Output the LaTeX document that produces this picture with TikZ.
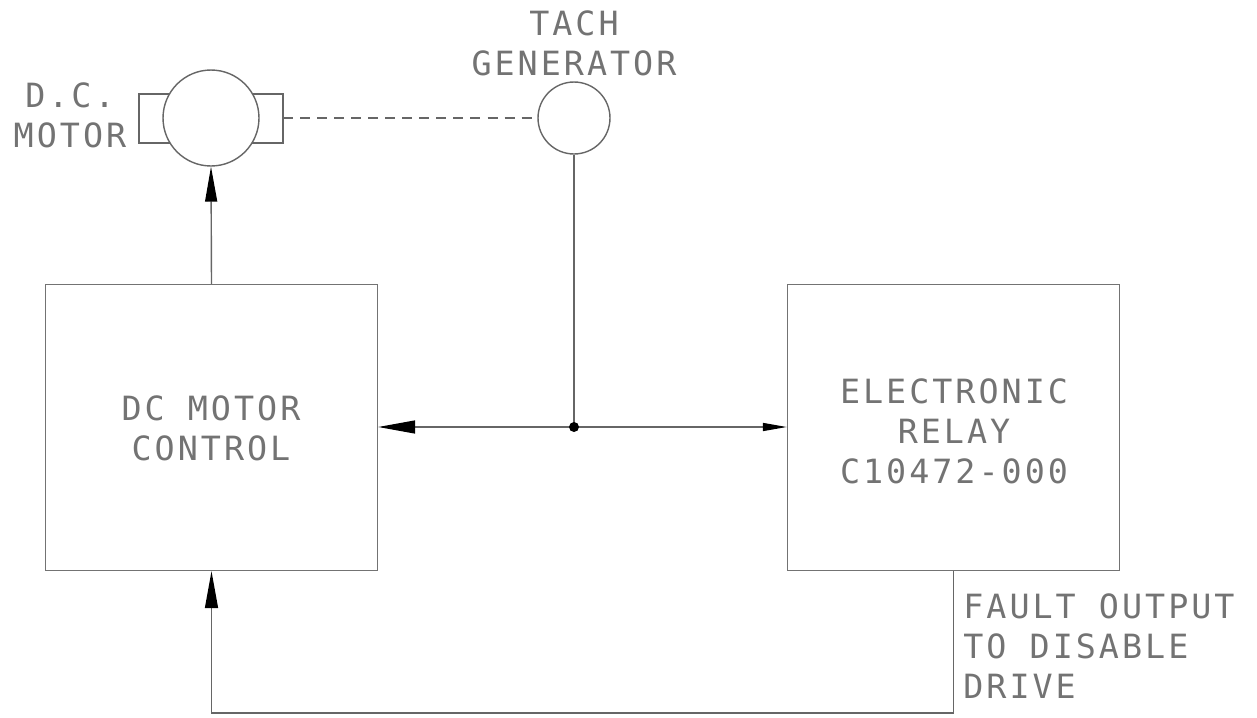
\documentclass[tikz,border=0pt]{standalone}
\usepackage{fontspec}
\setmainfont{DejaVu Sans Mono}[LetterSpace=9]
\usepackage{tikz}
\usetikzlibrary{arrows.meta,positioning}

\tikzset{
  wire/.style={draw=black!60, line width=0.8pt},
  block/.style={draw=black!55, line width=0.8pt, minimum width=6.64cm, minimum height=5.72cm},
  lbl/.style={text=black!55, font=\fontsize{19}{22.8}\selectfont, inner sep=0pt},
  bigtip/.style={-{Triangle[length=0.74cm,width=0.26cm,color=black]}},
  smalltip/.style={-{Triangle[length=0.48cm,width=0.16cm,color=black]}}
}

\begin{document}
\begin{tikzpicture}[x=0.02cm,y=-0.02cm]
            \useasboundingbox (0,0) rectangle (1257,717);
            % motor with its two end bells
            \draw[wire] (139,94) rectangle (283,143);
            \node[circle, wire, fill=white, minimum size=1.92cm, inner sep=0pt] (motor) at (211,118) {};
            \coordinate (shaft) at (283,118);
            \node[lbl, align=center] (motorlbl) at (70,115) {D.C.\\MOTOR};
            % tach
            \node[circle, wire, minimum size=1.44cm, inner sep=0pt] (tach) at (574,118) {};
            \node[lbl, align=center] (tachlbl) at (574,43) {TACH\\GENERATOR};
            \draw[wire, dash pattern=on 5.7pt off 4pt] (shaft) -- (tach.west);
            % blocks
            \node[block] (ctrl) at (211.5,427.5) {};
            \node[lbl, align=center] at (211,428) {DC MOTOR\\CONTROL};
            \node[block] (relay) at (953.5,427.5) {};
            \node[lbl, align=center] at (954,431) {ELECTRONIC\\RELAY\\C10472-000};
            % signal lines
            \coordinate (jn) at (574,427);
            \draw[wire] (tach.south) -- (jn);
            \draw[wire, bigtip] (jn) -- (ctrl.east |- jn);
            \draw[wire, smalltip] (jn) -- (relay.west |- jn);
            \fill (jn) circle (5);
            \draw[wire, -{Triangle[length=0.7cm,width=0.24cm,color=black]}] (ctrl.north) -- (motor.south);
            % fault feedback
            \coordinate (fb) at (953.5,713);
            \draw[wire, bigtip] (relay.south) -- (fb) -| (ctrl.south);
            \node[lbl, align=left, anchor=north west] (fault) at (963,593) {FAULT OUTPUT\\TO DISABLE\\DRIVE};
        \end{tikzpicture}
\end{document}
